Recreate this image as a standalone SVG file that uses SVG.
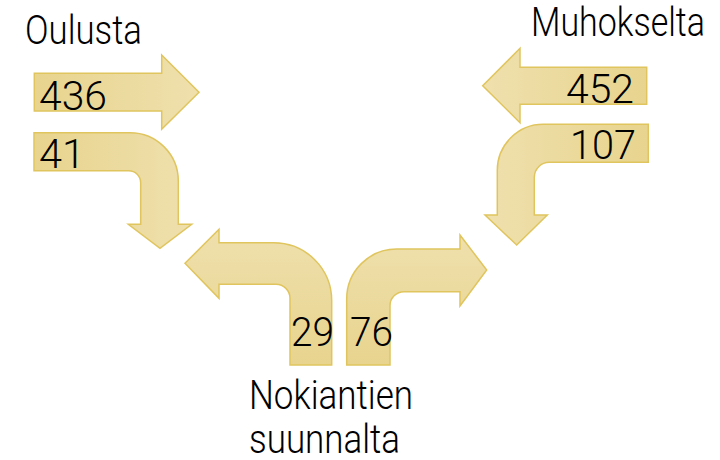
<svg xmlns="http://www.w3.org/2000/svg" width="720" height="460" viewBox="0 0 720 460">
<defs>
<linearGradient id="gR" x1="0" y1="0" x2="1" y2="0"><stop offset="0" stop-color="#E8D48E"/><stop offset="1" stop-color="#EFE0AD"/></linearGradient>
<linearGradient id="gL" x1="1" y1="0" x2="0" y2="0"><stop offset="0" stop-color="#E8D48E"/><stop offset="1" stop-color="#EFE0AD"/></linearGradient>
<linearGradient id="gU" x1="0" y1="1" x2="0" y2="0"><stop offset="0" stop-color="#E8D48E"/><stop offset="1" stop-color="#EFE0AD"/></linearGradient>
</defs>
<style>
.a{stroke:#E0C55E;stroke-width:1.5;stroke-linejoin:miter}
.t{font-family:Roboto,"DejaVu Sans Condensed",sans-serif;font-weight:300;fill:#000}
.lb{font-size:40px}
.n{font-size:41px}
</style>
<g id="connectors">
<g id="arrow-436"><path class="a" fill="url(#gR)" d="M34.3,73.3 H161.7 V55 L199,92.3 L161.7,129.3 V111 H34.3 Z"/></g>
<g id="arrow-41"><path class="a" fill="url(#gR)" d="M34,132.7 H130 A48.3,48.3 0 0 1 178.3,181 V224.3 H191.7 L160,248.3 L128.3,224.3 H140.7 V182.7 A12,12 0 0 0 128.7,170.7 H34 Z"/></g>
<g id="arrow-452"><path class="a" fill="url(#gL)" d="M646.7,67.3 H520 V48.3 L482.7,85.7 L520,122.7 V104.3 H646.7 Z"/></g>
<g id="arrow-107"><path class="a" fill="url(#gL)" d="M648.3,124.3 H543.3 A46,46 0 0 0 497.3,170.3 V215 H485 L516.7,245 L547.3,215 H534.3 V177.3 A15,15 0 0 1 549.3,162.3 H648.3 Z"/></g>
<g id="arrow-29"><path class="a" fill="url(#gU)" d="M290,365 V298.3 A14,14 0 0 0 276,284.3 H219 V298.3 L185,263.3 L219,229.3 V242.7 H273.7 A58,58 0 0 1 331.7,300.7 V365 Z"/></g>
<g id="arrow-76"><path class="a" fill="url(#gU)" d="M346.7,365 V299 A50,50 0 0 1 396.7,249 H460 V235 L486.7,270 L460,306 V291.7 H404 A14,14 0 0 0 390,305.7 V365 Z"/></g>
</g>
<g id="node-oulusta"><text class="t lb" x="25" y="44" textLength="117" lengthAdjust="spacingAndGlyphs">Oulusta</text></g>
<g id="node-muhokselta"><text class="t lb" x="531" y="36" textLength="174" lengthAdjust="spacingAndGlyphs">Muhokselta</text></g>
<g id="node-nokiantien"><text class="t lb" x="249" y="409" textLength="164" lengthAdjust="spacingAndGlyphs">Nokiantien</text><text class="t lb" x="249" y="453" textLength="151" lengthAdjust="spacingAndGlyphs">suunnalta</text></g>
<g id="labels">
<text class="t n" x="39" y="110" textLength="68" lengthAdjust="spacingAndGlyphs">436</text>
<text class="t n" x="39" y="168" textLength="46" lengthAdjust="spacingAndGlyphs">41</text>
<text class="t n" x="566" y="103" textLength="68" lengthAdjust="spacingAndGlyphs">452</text>
<text class="t n" x="570" y="159" textLength="66" lengthAdjust="spacingAndGlyphs">107</text>
<text class="t n" x="291" y="346" textLength="43" lengthAdjust="spacingAndGlyphs">29</text>
<text class="t n" x="350" y="346" textLength="43" lengthAdjust="spacingAndGlyphs">76</text>
</g>
</svg>
